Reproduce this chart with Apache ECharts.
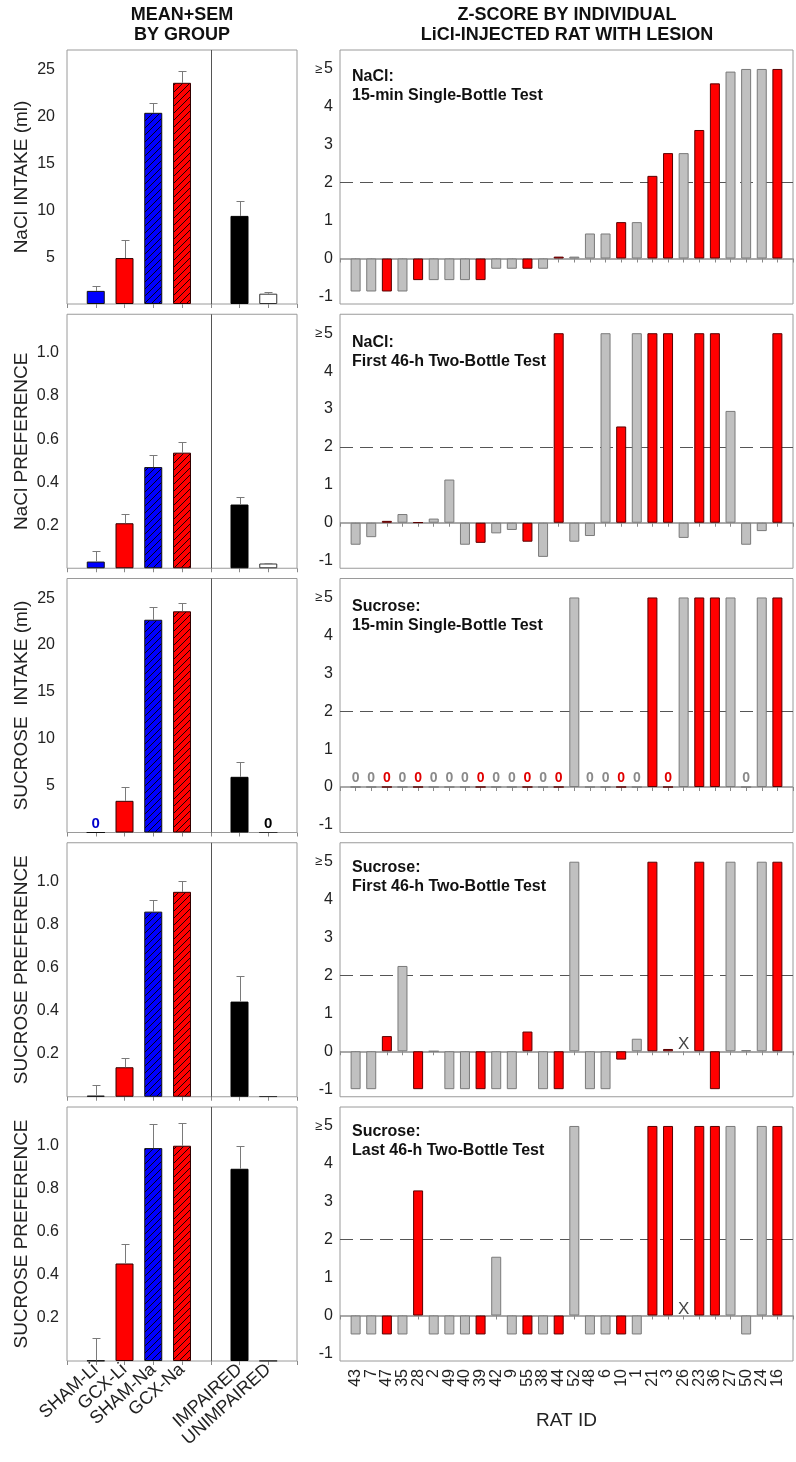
<!DOCTYPE html>
<html><head><meta charset="utf-8">
<script src="https://cdn.jsdelivr.net/npm/echarts@6/dist/echarts.min.js"></script>
<style>html,body{margin:0;padding:0;background:#fff}#c{width:796px;height:1462px}</style>
</head><body><div id="c"></div>
<script>
// ---------- DATA ----------
const groupNames = ['SHAM-Li','GCX-Li','SHAM-Na','GCX-Na','IMPAIRED','UNIMPAIRED'];
const naclIntakeMean = [1.4, 4.9, 20.4, 23.6, 9.4, 1.1];
const naclIntakeSem  = [0.5, 1.9, 1.0, 1.3, 1.6, 0.2];
const naclPrefMean   = [0.031, 0.209, 0.47, 0.537, 0.296, 0.022];
const naclPrefSem    = [0.05, 0.044, 0.056, 0.051, 0.035, 0.004];
const sucIntakeMean  = [0, 3.38, 22.7, 23.6, 5.94, 0];
const sucIntakeSem   = [0, 1.46, 1.4, 0.85, 1.56, 0];
const sucPref1Mean   = [0.005, 0.137, 0.86, 0.952, 0.442, 0.002];
const sucPref1Sem    = [0.048, 0.042, 0.056, 0.051, 0.119, 0];
const sucPref2Mean   = [0.002, 0.453, 0.989, 1.0, 0.893, 0.001];
const sucPref2Sem    = [0.103, 0.089, 0.111, 0.105, 0.107, 0];

const ratIds   = [43,7,47,35,28,2,49,40,39,42,9,55,38,44,52,48,6,10,1,21,3,26,23,36,27,50,24,16];
const ratGroup = [0,0,1,0,1,0,0,0,1,0,0,1,0,1,0,0,0,1,0,1,1,0,1,1,0,0,0,1];
const zNaCl15  = [-0.87,-0.87,-0.87,-0.87,-0.57,-0.57,-0.57,-0.57,-0.57,-0.27,-0.27,-0.27,-0.27,0.05,0.05,0.66,0.66,0.96,0.96,2.18,2.78,2.78,3.39,4.62,4.93,5,5,5];
const zNaCl46  = [-0.58,-0.38,0.05,0.23,0.01,0.11,1.14,-0.58,-0.53,-0.28,-0.19,-0.5,-0.9,5,-0.5,-0.35,5,2.54,5,5,5,-0.4,5,5,2.95,-0.58,-0.22,5];
const zSuc15   = [0,0,0,0,0,0,0,0,0,0,0,0,0,0,5,0,0,0,0,5,0,5,5,5,5,0,5,5];
const zSuc46a  = [-1,-1,0.4,2.25,-1,0,-1,-1,-1,-1,-1,0.52,-1,-1,5,-1,-1,-0.22,0.33,5,0.06,null,5,-1,5,0.03,5,5];
const zSuc46b  = [-0.5,-0.5,-0.5,-0.5,3.3,-0.5,-0.5,-0.5,-0.5,1.55,-0.5,-0.5,-0.5,-0.5,5,-0.5,-0.5,-0.5,-0.5,5,5,null,5,5,5,-0.5,5,5];

const leftTitles = ['NaCl INTAKE (ml)','NaCl PREFERENCE','SUCROSE  INTAKE (ml)','SUCROSE PREFERENCE','SUCROSE PREFERENCE'];
const rightTitles = [['NaCl:','15-min Single-Bottle Test'],['NaCl:','First 46-h Two-Bottle Test'],['Sucrose:','15-min Single-Bottle Test'],['Sucrose:','First 46-h Two-Bottle Test'],['Sucrose:','Last 46-h Two-Bottle Test']];
const zeroThreshold = 2;

// ---------- STYLE / LAYOUT ----------
const FONT = '"Liberation Sans", Arial, sans-serif';
function hatch(fill){
  const s=7, c=document.createElement('canvas'); c.width=s; c.height=s;
  const g=c.getContext('2d'); g.fillStyle=fill; g.fillRect(0,0,s,s);
  g.strokeStyle='#000'; g.lineWidth=0.9; g.beginPath();
  g.moveTo(0,s); g.lineTo(s,0); g.moveTo(-1,1); g.lineTo(1,-1); g.moveTo(s-1,s+1); g.lineTo(s+1,s-1); g.stroke();
  return {image:c, repeat:'repeat'};
}
const groupStyles = [
  {color:'#0000FF', borderColor:'#111', label:'#0000CC'},
  {color:'#FF0000', borderColor:'#300', label:'#F00'},
  {color:hatch('#0000FF'), borderColor:'#111', label:'#00F'},
  {color:hatch('#FF0000'), borderColor:'#300', label:'#F00'},
  {color:'#000000', borderColor:'#000', label:'#000'},
  {color:'#FFFFFF', borderColor:'#333', label:'#000'}
];
const ratStyles = [
  {color:'#C0C0C0', borderColor:'#7a7a7a', label:'#8a8a8a'},
  {color:'#FF0000', borderColor:'#5a0000', label:'#E00000'}
];
const panelTop = i => 50 + i*264.25;
const PH = 254;
const annotTop = [17,19,19,15,15];
const groupPos = i => (i < 4 ? i+1 : i+2);

const leftSets = [
  [naclIntakeMean, naclIntakeSem, 'ml'],
  [naclPrefMean, naclPrefSem, 'pref'],
  [sucIntakeMean, sucIntakeSem, 'ml'],
  [sucPref1Mean, sucPref1Sem, 'pref'],
  [sucPref2Mean, sucPref2Sem, 'pref']
];
const rightSets = [zNaCl15, zNaCl46, zSuc15, zSuc46a, zSuc46b];

const grid=[], xAxis=[], yAxis=[], series=[], graphic=[];
leftSets.forEach((set,i)=>{
  const [mean, sem, kind] = set;
  const last = i===4;
  grid.push({left:67, top:panelTop(i), width:230, height:PH, show:true, borderColor:'#9a9a9a', borderWidth:1, containLabel:false});
  xAxis.push({gridIndex:i, type:'value', min:0, max:8, interval:1,
    axisLine:{show:false}, splitLine:{show:false},
    axisTick:{show:true, inside:false, length:4, lineStyle:{color:'#888'}},
    axisLabel:{show:last, rotate:42, fontSize:18, color:'#222', fontFamily:FONT, margin:6,
      formatter:v=>{const k=[1,2,3,4,6,7].indexOf(v); return k>=0?groupNames[k]:'';}}});
  yAxis.push(kind==='ml'
    ? {gridIndex:i, type:'value', min:0, max:27.1, interval:5, axisLine:{show:false}, axisTick:{show:false}, splitLine:{show:false},
       name:leftTitles[i], nameLocation:'middle', nameGap:36, nameTextStyle:{fontSize:19, color:'#222', fontFamily:FONT},
       axisLabel:{fontSize:16, color:'#222', fontFamily:FONT, margin:12, formatter:v=>(v>0 && Math.abs(v%5)<1e-6)?String(v):''}}
    : {gridIndex:i, type:'value', min:0, max:1.18, interval:0.2, axisLine:{show:false}, axisTick:{show:false}, splitLine:{show:false},
       name:leftTitles[i], nameLocation:'middle', nameGap:36, nameTextStyle:{fontSize:19, color:'#222', fontFamily:FONT},
       axisLabel:{fontSize:16, color:'#222', fontFamily:FONT, margin:8, formatter:v=>(v>0.01 && v<1.01)?v.toFixed(1):''}});
  series.push({type:'bar', xAxisIndex:i, yAxisIndex:i, barWidth:18, z:2,
    data: mean.map((m,k)=>({value:[groupPos(k), m],
      itemStyle:{color:groupStyles[k].color, borderColor:groupStyles[k].borderColor, borderWidth:1},
      label:{show:m===0, position:'top', distance:1, formatter:'0', fontSize:15, fontWeight:'bold', color:groupStyles[k].label, fontFamily:FONT}})),
    markLine:{silent:true, symbol:'none', label:{show:false}, lineStyle:{color:'#555', type:'solid', width:1},
      data:[{xAxis:5}]}
  });
  series.push({type:'custom', xAxisIndex:i, yAxisIndex:i, z:3,
    encode:{x:0, y:[1,2]},
    data: mean.map((m,k)=>[groupPos(k), m, m+sem[k]]).filter((d,k)=>sem[k]>0),
    renderItem:(p,api)=>{
      const a=api.coord([api.value(0), api.value(1)]), b=api.coord([api.value(0), api.value(2)]);
      const x=Math.round(a[0])+0.5, yb=Math.round(b[1])+0.5;
      return {type:'group', children:[
        {type:'line', shape:{x1:x,y1:a[1],x2:x,y2:yb}, style:{stroke:'#7a7a7a', lineWidth:1}},
        {type:'line', shape:{x1:x-4,y1:yb,x2:x+4,y2:yb}, style:{stroke:'#7a7a7a', lineWidth:1}}
      ]};
    }});
});

rightSets.forEach((vals,j)=>{
  const i = 5+j, last = j===4;
  grid.push({left:340, top:panelTop(j), width:453, height:PH, show:true, borderColor:'#9a9a9a', borderWidth:1});
  xAxis.push({gridIndex:i, type:'value', min:0, max:29, interval:1,
    axisLine:{show:false}, splitLine:{show:false},
    axisTick:{show:true, length:4, lineStyle:{color:'#888'}},
    name:last?'RAT ID':'', nameLocation:'middle', nameGap:50, nameTextStyle:{fontSize:19, color:'#222', fontFamily:FONT},
    axisLabel:{show:last, rotate:90, fontSize:16, color:'#222', fontFamily:FONT, margin:8,
      formatter:v=>(v>=1 && v<=ratIds.length)?String(ratIds[v-1]):''}});
  yAxis.push({gridIndex:i, type:'value', min:-1.2, max:5.5, splitNumber:7, minInterval:1, maxInterval:1,
    axisLine:{show:false}, axisTick:{show:false}, splitLine:{show:false},
    axisLabel:{fontSize:16, color:'#222', fontFamily:FONT, margin:7,
      formatter:v=>{ if(Math.abs(v-Math.round(v))>1e-6) return ''; return v===5?'{s|≥}5':String(v); },
      rich:{s:{fontSize:13, color:'#222', fontFamily:FONT, padding:[0,2,0,0]}}}});
  series.push({type:'bar', xAxisIndex:i, yAxisIndex:i, barWidth:10, z:2,
    data: vals.map((v,k)=> v===null ? null : ({value:[k+1, v],
      itemStyle:{color:ratStyles[ratGroup[k]].color, borderColor:ratStyles[ratGroup[k]].borderColor, borderWidth:1},
      label:{show:(j===2 && v===0), position:'top', distance:1, formatter:'0', fontSize:14, fontWeight:'bold', color:ratStyles[ratGroup[k]].label, fontFamily:FONT}})).filter(d=>d!==null),
    markLine:{silent:true, symbol:'none', label:{show:false}, z:1,
      data:[{yAxis:0, lineStyle:{color:'#8c8c8c', type:'solid', width:1.5}},
            {yAxis:zeroThreshold, lineStyle:{color:'#555', type:[13,7], width:1}}]}
  });
  const missing = vals.map((v,k)=> v===null ? [k+1, 0] : null).filter(d=>d!==null);
  if (missing.length) series.push({type:'scatter', xAxisIndex:i, yAxisIndex:i, symbolSize:0, z:4,
    data: missing, label:{show:true, position:'top', distance:-2, formatter:'X', fontSize:17, color:'#111', fontFamily:FONT}});
  graphic.push({type:'text', left:352, top:panelTop(j)+annotTop[j], z:10,
    style:{text:rightTitles[j].join('\n'), font:'bold 16px '+FONT, fill:'#111', lineHeight:19}});
});

graphic.push({type:'text', x:182, y:5, z:10, style:{text:'MEAN+SEM\nBY GROUP', textAlign:'center', font:'bold 18px '+FONT, fill:'#111', lineHeight:20}});
graphic.push({type:'text', x:567, y:5, z:10, style:{text:'Z-SCORE BY INDIVIDUAL\nLiCl-INJECTED RAT WITH LESION', textAlign:'center', font:'bold 18px '+FONT, fill:'#111', lineHeight:20}});

const chart = echarts.init(document.getElementById('c'), null, {renderer:'canvas'});
chart.setOption({animation:false, backgroundColor:'#fff', textStyle:{fontFamily:FONT}, grid, xAxis, yAxis, series, graphic});
</script></body></html>
